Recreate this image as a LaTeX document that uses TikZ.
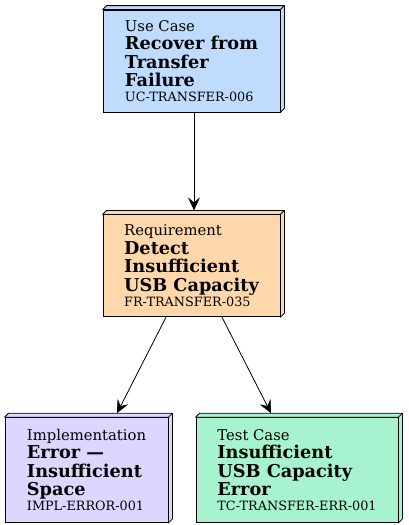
\documentclass[tikz,border=0pt]{standalone}
\usepackage{fontspec}
\setmainfont{DejaVu Serif}
\usepackage{xcolor}
\usetikzlibrary{arrows.meta,positioning}
\definecolor{ucblue}{HTML}{BFDBFE}
\definecolor{reqorange}{HTML}{FED7AA}
\definecolor{implviolet}{HTML}{DDD6FE}
\definecolor{tcgreen}{HTML}{A7F3D0}
\newcommand{\kindfont}{\fontsize{14.8}{18.5}\selectfont}
\newcommand{\titlefont}{\fontsize{17.7}{18.5}\selectfont\bfseries}
\newcommand{\idfont}{\fontsize{12.8}{14}\selectfont}
\newcommand{\depthface}[2]{%
  \filldraw[fill=#2, line width=0.8pt, line join=round]
    (#1.north west) -- ++(4pt,4pt) -- ([shift={(4pt,4pt)}]#1.north east)
    -- ([shift={(4pt,4pt)}]#1.south east) -- (#1.south east) -- (#1.north east) -- cycle
    (#1.north east) -- ++(4pt,4pt);}

\begin{document}
\begin{tikzpicture}[
  x=1pt, y=1pt,
  box/.style={draw, line width=0.8pt, fill=#1, align=left, inner sep=0pt,
    font=\fontsize{14.8}{18.5}\selectfont, minimum width=177pt, minimum height=102pt},
  >={Stealth[length=13pt, width=12pt, inset=5pt]}
]
  \useasboundingbox (0,0) rectangle (408,-525);

  \node[box=ucblue] (uc) at (191.5,-61)
    {\kindfont Use Case\\ \titlefont Recover from\\ \titlefont Transfer\\ \titlefont Failure\\[-3.5pt] \idfont UC-TRANSFER-006};
  \node[box=reqorange, below=102pt of uc] (req)
    {\kindfont Requirement\\ \titlefont Detect\\ \titlefont Insufficient\\ \titlefont USB Capacity\\[-3.5pt] \idfont FR-TRANSFER-035};
  \node[box=implviolet, minimum width=163pt, minimum height=105pt, below=100pt of req, xshift=-105pt] (impl)
    {\kindfont Implementation\\ \titlefont Error ---\\ \titlefont Insufficient\\ \titlefont Space\\[-3.5pt] \idfont IMPL-ERROR-001};
  \node[box=tcgreen, minimum width=202pt, minimum height=105pt, below=100pt of req, xshift=105.5pt] (tc)
    {\kindfont Test Case\\ \titlefont Insufficient\\ \titlefont USB Capacity\\ \titlefont Error\\[-3.5pt] \idfont TC-TRANSFER-ERR-001};

  \depthface{uc}{ucblue}
  \depthface{req}{reqorange}
  \depthface{impl}{implviolet}
  \depthface{tc}{tcgreen}

  \draw[->, line width=0.8pt] ([xshift=2.5pt]uc.south) -- ([xshift=2.5pt, yshift=4pt]req.north);
  \draw[->, line width=0.8pt] ([xshift=-25.5pt]req.south) -- ([xshift=30.5pt, yshift=4pt]impl.north);
  \draw[->, line width=0.8pt] ([xshift=30.5pt]req.south) -- ([xshift=-26pt, yshift=4pt]tc.north);
\end{tikzpicture}
\end{document}
